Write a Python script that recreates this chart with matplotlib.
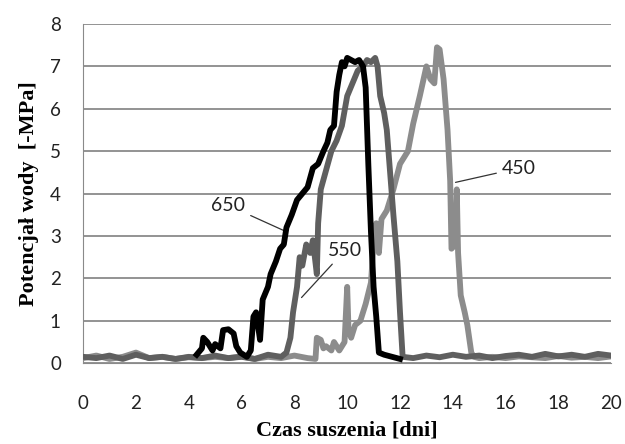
import matplotlib.pyplot as plt

# Seria 650 (czarna)
x_650 = [4.3, 4.5, 4.55, 4.7, 4.9, 5.0, 5.2, 5.3, 5.5, 5.7, 5.8, 5.95, 6.2, 6.35, 6.45,
         6.55, 6.7, 6.8, 7.0, 7.1, 7.3, 7.46, 7.6, 7.7, 7.9, 8.1, 8.3, 8.5, 8.7, 8.9,
         9.1, 9.25, 9.36, 9.5, 9.6, 9.7, 9.8, 9.9, 10.0, 10.15, 10.3, 10.45, 10.6,
         10.7, 10.8, 10.9, 11.0, 11.1, 11.2, 11.4, 11.7, 12.0]
y_650 = [0.2, 0.35, 0.6, 0.5, 0.3, 0.45, 0.35, 0.78, 0.8, 0.7, 0.4, 0.25, 0.15, 0.3, 1.1,
         1.2, 0.55, 1.5, 1.8, 2.1, 2.4, 2.7, 2.8, 3.2, 3.5, 3.85, 4.0, 4.15, 4.6, 4.7,
         5.0, 5.2, 5.5, 5.6, 6.4, 6.8, 7.1, 7.0, 7.2, 7.15, 7.1, 7.15, 7.0,
         6.5, 4.7, 3.1, 1.8, 1.1, 0.25, 0.2, 0.15, 0.1]

# Seria 550 (ciemnoszara)
x_550 = [0, 0.5, 1, 1.5, 2, 2.5, 3, 3.5, 4, 4.5, 5, 5.5, 6, 6.5, 7, 7.5, 7.7, 7.85,
         7.95, 8.1, 8.2, 8.3, 8.45, 8.6, 8.7, 8.85, 8.9, 9.0, 9.2, 9.4, 9.6, 9.8,
         10.0, 10.2, 10.4, 10.6, 10.75, 10.9, 11.06, 11.15, 11.25, 11.4, 11.5, 11.6,
         11.75, 11.9, 12.0, 12.1, 12.5, 13, 13.5, 14, 14.5, 15, 15.5, 16, 16.5, 17,
         17.5, 18, 18.5, 19, 19.5, 20]
y_550 = [0.15, 0.12, 0.18, 0.1, 0.2, 0.12, 0.15, 0.1, 0.15, 0.12, 0.18, 0.12, 0.15,
         0.1, 0.2, 0.15, 0.25, 0.6, 1.2, 1.8, 2.5, 2.3, 2.8, 2.6, 2.9, 2.1, 3.3, 4.1,
         4.55, 5.0, 5.25, 5.6, 6.3, 6.6, 6.9, 7.0, 7.15, 7.1, 7.2, 7.0, 6.3, 5.9, 5.5,
         4.7, 3.5, 2.4, 1.2, 0.15, 0.12, 0.18, 0.14, 0.2, 0.15, 0.18, 0.12, 0.17,
         0.2, 0.15, 0.22, 0.16, 0.2, 0.15, 0.22, 0.18]

# Seria 450 (jasnoszara)
x_450 = [0, 0.5, 1, 1.5, 2, 2.5, 3, 3.5, 4, 4.5, 5, 5.5, 6, 6.5, 7, 7.5, 8, 8.5, 8.8,
         8.85, 9.0, 9.1, 9.2, 9.4, 9.5, 9.7, 9.9, 10.0, 10.05, 10.15, 10.3, 10.5,
         10.7, 10.9, 11.0, 11.1, 11.2, 11.3, 11.5, 11.75, 12.0, 12.3, 12.5, 12.75,
         13.0, 13.15, 13.3, 13.4, 13.5, 13.65, 13.8, 13.9, 13.95, 14.1, 14.15, 14.2,
         14.3, 14.45, 14.55, 14.7, 14.8, 15, 15.5, 16, 16.5, 17, 17.5, 18, 18.5, 19,
         19.5, 20]
y_450 = [0.12, 0.18, 0.1, 0.15, 0.25, 0.12, 0.15, 0.1, 0.14, 0.12, 0.15, 0.12, 0.16,
         0.1, 0.15, 0.12, 0.18, 0.12, 0.1,
         0.6, 0.55, 0.35, 0.4, 0.3, 0.5, 0.3, 0.5, 1.8, 0.8, 0.6, 0.9, 1.0,
         1.4, 1.9, 2.8, 3.3, 2.6, 3.4, 3.6, 4.1, 4.7, 5.0, 5.65, 6.3,
         7.0, 6.7, 6.6, 7.45, 7.4, 6.7, 5.5, 4.3, 2.7, 2.8, 4.1, 2.6,
         1.6, 1.2, 0.9, 0.25, 0.15, 0.12, 0.15, 0.12, 0.16, 0.14, 0.12, 0.17, 0.13,
         0.15, 0.12, 0.16]

fig = plt.figure(figsize=(6.25, 4.44), dpi=100)
ax = fig.add_axes([0.133, 0.182, 0.845, 0.764])

ax.plot(x_450, y_450, color='#8c8c8c', lw=4.2, zorder=2)
ax.plot(x_550, y_550, color='#5f5f5f', lw=4.2, zorder=3)
ax.plot(x_650, y_650, color='black', lw=4.2, zorder=4)

ax.set_xlim(0, 20)
ax.set_ylim(0, 8)
ax.set_xticks(range(0, 21, 2))
ax.set_yticks(range(0, 9))
ax.yaxis.grid(True, color='#8a8a8a', lw=1.3)
ax.set_axisbelow(True)
for s in ['top', 'right']:
    ax.spines[s].set_visible(False)
ax.spines['left'].set_color('#8a8a8a')
ax.spines['bottom'].set_color('#8a8a8a')
ax.tick_params(length=0, labelsize=13.5, labelcolor='#222222')
ax.tick_params(axis='x', pad=23)
ax.tick_params(axis='y', pad=16)
for lab in ax.get_xticklabels() + ax.get_yticklabels():
    lab.set_family('Lato')

lbl = dict(family='Liberation Serif', weight='bold', size=16)
ax.set_xlabel('Czas suszenia [dni]', labelpad=6, **lbl)
ax.set_ylabel('Potencjał wody  [-MPa]', labelpad=8, **lbl)

arrow = dict(arrowstyle='-', color='#333333', lw=0.9)
txt = dict(family='Lato', size=14, ha='center', va='center', color='#222222')
ax.annotate('650', xy=(7.7, 3.1), xytext=(5.5, 3.72), arrowprops=arrow, **txt)
ax.annotate('550', xy=(8.2, 1.5), xytext=(9.9, 2.65), arrowprops=arrow, **txt)
ax.annotate('450', xy=(14.0, 4.25), xytext=(16.5, 4.6), arrowprops=arrow, **txt)

fig.savefig('out.png', dpi=100)
